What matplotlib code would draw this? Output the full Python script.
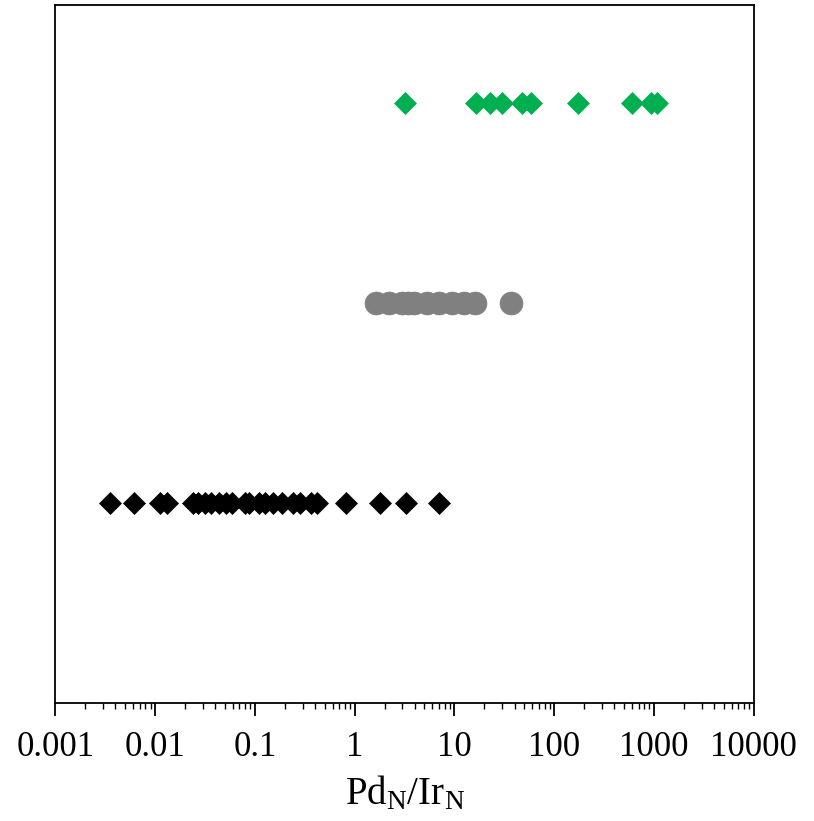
import matplotlib
matplotlib.use('Agg')
import matplotlib.pyplot as plt
from matplotlib.ticker import LogLocator, FixedLocator, FixedFormatter, NullFormatter

plt.rcParams['font.family'] = ['Liberation Serif', 'DejaVu Serif']
plt.rcParams['mathtext.fontset'] = 'custom'
plt.rcParams['mathtext.rm'] = 'Liberation Serif'
plt.rcParams['mathtext.it'] = 'Liberation Serif:italic'

# Pd/Ir ratios for the three groups (top, middle, bottom rows)
green_x = [3.2, 16.4, 22.6, 29.9, 47.3, 58.2, 172, 596, 923, 1084]
gray_x = [1.62, 2.21, 2.99, 3.43, 3.94, 5.31, 7.0, 9.44, 12.4, 16.2, 36.7]
black_x = [0.00351, 0.0061, 0.0111, 0.0133, 0.0237, 0.0272, 0.0313, 0.0367,
           0.0432, 0.0519, 0.0596, 0.0804, 0.0881, 0.111, 0.127, 0.153,
           0.188, 0.243, 0.285, 0.367, 0.422, 0.822, 1.80, 3.27, 7.0]
row_y = [3, 2, 1]

tick_vals = [0.001, 0.01, 0.1, 1, 10, 100, 1000, 10000]
tick_labels = ['0.001', '0.01', '0.1', '1', '10', '100', '1000', '10000']

fig = plt.figure(figsize=(8.14, 8.21), dpi=100)
ax = fig.add_axes([0.068, 0.1437, 0.858, 0.8502])

ax.plot(green_x, [row_y[0]] * len(green_x), 'D', color='#00B050', ms=11.7, mec='#00B050', mew=0.5, ls='none')
ax.plot(gray_x, [row_y[1]] * len(gray_x), 'o', color='#808080', ms=16.5, mec='#808080', mew=0.5, ls='none')
ax.plot(black_x, [row_y[2]] * len(black_x), 'D', color='black', ms=11.7, mec='black', mew=0.5, ls='none')

ax.set_xscale('log')
ax.set_xlim(0.001, 10000)
ax.set_ylim(0, 3.49)

ax.xaxis.set_major_locator(FixedLocator(tick_vals))
ax.xaxis.set_major_formatter(FixedFormatter(tick_labels))
ax.xaxis.set_minor_locator(LogLocator(base=10, subs=range(2, 10), numticks=20))
ax.xaxis.set_minor_formatter(NullFormatter())
ax.tick_params(axis='x', which='major', direction='out', length=9, width=1.3, labelsize=25, pad=11)
ax.tick_params(axis='x', which='minor', direction='out', length=4.5, width=1.0)
ax.set_yticks([])

for s in ax.spines.values():
    s.set_linewidth(1.3)

ax.set_xlabel(r'Pd$_\mathrm{N}$/Ir$_\mathrm{N}$', fontsize=28, labelpad=8)

plt.savefig('out.png', dpi=100)
